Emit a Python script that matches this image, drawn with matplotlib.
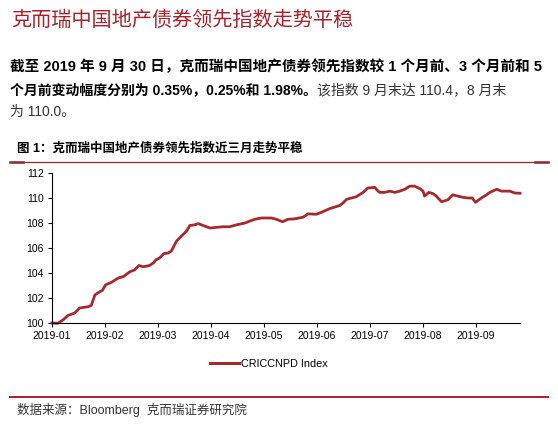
import matplotlib
matplotlib.use("Agg")
import matplotlib.pyplot as plt
from matplotlib.lines import Line2D

plt.rcParams['font.family'] = ['Liberation Sans', 'Noto Sans CJK SC', 'DejaVu Sans']

# ---- data (x = months since 2019-01-01, evenly spaced months) ----
month_labels = ["2019-01", "2019-02", "2019-03", "2019-04", "2019-05",
                "2019-06", "2019-07", "2019-08", "2019-09"]
x_months = [0.00, 0.11, 0.21, 0.30, 0.43, 0.52, 0.68, 0.74, 0.81, 0.90, 0.95,
            1.01, 1.12, 1.25, 1.34, 1.47, 1.56, 1.64, 1.72, 1.84, 1.91, 1.96,
            2.03, 2.11, 2.19, 2.25, 2.35, 2.44, 2.54, 2.60, 2.69, 2.76, 2.85,
            2.98, 3.10, 3.23, 3.35, 3.48, 3.64, 3.73, 3.83, 3.95, 4.05, 4.14,
            4.23, 4.35, 4.45, 4.58, 4.74, 4.83, 4.99, 5.08, 5.24, 5.43, 5.49,
            5.56, 5.65, 5.74, 5.87, 5.96, 6.09, 6.13, 6.18, 6.28, 6.37, 6.47,
            6.56, 6.66, 6.75, 6.84, 6.94, 7.00, 7.03, 7.11, 7.19, 7.25, 7.35,
            7.47, 7.56, 7.66, 7.76, 7.85, 7.93, 7.99, 8.10, 8.20, 8.26, 8.39,
            8.48, 8.64, 8.73, 8.83]
index_values = [100.00, 99.98, 100.25, 100.60, 100.80, 101.20, 101.30, 101.40,
                102.25, 102.50, 102.60, 103.05, 103.25, 103.60, 103.70, 104.10,
                104.25, 104.60, 104.50, 104.60, 104.80, 105.05, 105.20, 105.55,
                105.60, 105.75, 106.55, 106.95, 107.35, 107.80, 107.85, 107.95,
                107.80, 107.60, 107.65, 107.70, 107.70, 107.85, 108.00, 108.15,
                108.30, 108.40, 108.40, 108.40, 108.30, 108.10, 108.30, 108.33,
                108.47, 108.73, 108.70, 108.85, 109.15, 109.40, 109.60, 109.90,
                110.00, 110.10, 110.45, 110.80, 110.85, 110.65, 110.45, 110.45,
                110.55, 110.45, 110.55, 110.70, 110.95, 110.95, 110.75, 110.55,
                110.15, 110.45, 110.35, 110.15, 109.70, 109.85, 110.25, 110.15,
                110.05, 110.00, 110.00, 109.65, 110.00, 110.25, 110.45, 110.70,
                110.55, 110.55, 110.40, 110.38]
series_name = "CRICCNPD Index"
y_ticks = [100, 102, 104, 106, 108, 110, 112]

W, H = 558, 438
DARK_RED = '#A3222B'
LINE_RED = '#A52A2F'

fig = plt.figure(figsize=(W / 100, H / 100), dpi=100)
fig.patch.set_facecolor('white')

def fx(px):
    return px / W

def fy(py):
    return 1 - py / H

# ---- header text ----
fig.text(fx(11), fy(20), "克而瑞中国地产债券领先指数走势平稳", fontsize=14.5,
         color=DARK_RED, va='center', ha='left', family=['Noto Sans CJK SC'],
         fontweight='medium')

FS = 10.5
fig.text(fx(10), fy(67), "截至 2019 年 9 月 30 日，克而瑞中国地产债券领先指数较 1 个月前、3 个月前和 5",
         fontsize=FS, fontweight='bold', color='black', va='center', ha='left')
t_bold = fig.text(fx(10), fy(90), "个月前变动幅度分别为 0.35%，0.25%和 1.98%。",
                  fontsize=10.0, fontweight='bold', color='black', va='center', ha='left')
fig.canvas.draw()
bb = t_bold.get_window_extent()
fig.text(bb.x1 / W, fy(90), "该指数 9 月末达 110.4，8 月末", fontsize=10.0,
         color='#333333', va='center', ha='left')
fig.text(fx(10), fy(112), "为 110.0。", fontsize=10.0, color='#333333',
         va='center', ha='left')

# ---- figure caption and rules ----
fig.text(fx(17), fy(149), "图 1：克而瑞中国地产债券领先指数近三月走势平稳", fontsize=9,
         fontweight='heavy', color='black', va='center', ha='left')
fig.add_artist(Line2D([fx(10), fx(548)], [fy(162), fy(162)], color='#8B2A2E', lw=0.9))
fig.add_artist(Line2D([fx(10), fx(23)], [fy(162), fy(162)], color='#8B2A2E', lw=1.8))
fig.add_artist(Line2D([fx(535), fx(548)], [fy(162), fy(162)], color='#8B2A2E', lw=1.8))

fig.add_artist(Line2D([fx(10), fx(548)], [fy(397), fy(397)], color=DARK_RED, lw=1.4))
fig.text(fx(17), fy(410), "数据来源：Bloomberg  克而瑞证券研究院", fontsize=9,
         color='#333333', va='center', ha='left')

# ---- chart ----
ax = fig.add_axes([fx(52), fy(323), fx(520) - fx(52), fy(173) - fy(323)])
ax.plot(x_months, index_values, color=LINE_RED, lw=2.0, solid_joinstyle='round',
        label=series_name, clip_on=False)
ax.set_xlim(0, 8.83)
ax.set_ylim(100, 112)
ax.set_yticks(y_ticks)
ax.set_yticklabels([str(v) for v in y_ticks])
ax.set_xticks(range(len(month_labels)))
ax.set_xticklabels(month_labels)
for s in ['top', 'right']:
    ax.spines[s].set_visible(False)
for s in ['left', 'bottom']:
    ax.spines[s].set_linewidth(0.8)
    ax.spines[s].set_color('black')
ax.tick_params(axis='both', direction='out', length=3, width=0.8, labelsize=7.5,
               colors='black', pad=3)

leg = fig.legend(handles=[Line2D([], [], color=LINE_RED, lw=2.2)], labels=[series_name],
                 loc='center', bbox_to_anchor=(fx(269), fy(364)), frameon=False,
                 fontsize=7.8, handlelength=2.6, handletextpad=0.2)

fig.savefig("out.png", dpi=100, facecolor='white')
